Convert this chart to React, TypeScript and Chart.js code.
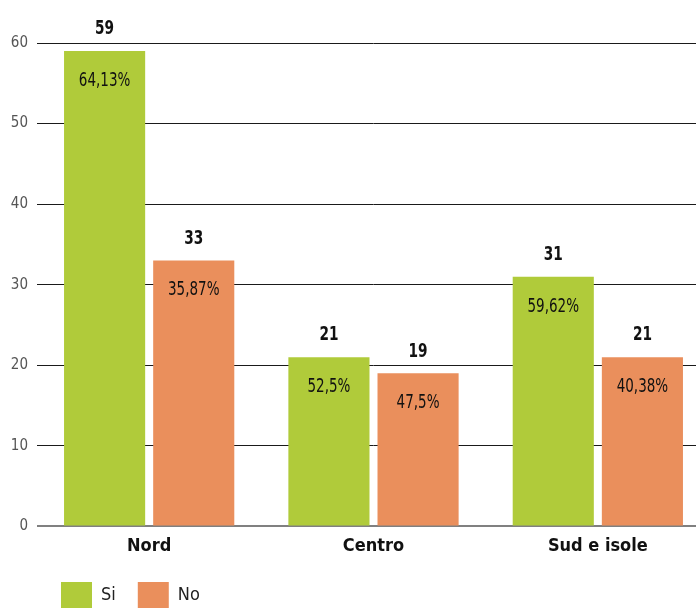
import React, { useEffect, useRef } from "react";
import { Chart, registerables } from "chart.js";

Chart.register(...registerables);

const categories = ["Nord", "Centro", "Sud e isole"];
const siValues = [59, 21, 31];
const noValues = [33, 19, 21];
const siPercent = ["64,13%", "52,5%", "59,62%"];
const noPercent = ["35,87%", "47,5%", "40,38%"];
const seriesNames = ["Si", "No"];
const yMax = 60;
const yStep = 10;

const FONT = '"DejaVu Sans Condensed", "Liberation Sans Narrow", sans-serif';
const GREEN = "#B0CB3A";
const ORANGE = "#EA8F5C";

function drawNarrow(ctx: any, text: string, x: number, y: number, sx: number) {
  ctx.save();
  ctx.translate(x, y);
  ctx.scale(sx, 1);
  ctx.fillText(text, 0, 0);
  ctx.restore();
}

const barLabels = {
  id: "barLabels",
  afterDatasetsDraw(chart: any) {
    const ctx = chart.ctx;
    const values = [siValues, noValues];
    const pcts = [siPercent, noPercent];
    chart.data.datasets.forEach((_ds: any, di: number) => {
      const meta = chart.getDatasetMeta(di);
      meta.data.forEach((bar: any, i: number) => {
        ctx.save();
        ctx.textAlign = "center";
        ctx.textBaseline = "middle";
        ctx.fillStyle = "#111";
        ctx.font = `bold 20px ${FONT}`;
        drawNarrow(ctx, String(values[di][i]), bar.x, bar.y - 22, 0.76);
        ctx.font = `19px ${FONT}`;
        drawNarrow(ctx, pcts[di][i], bar.x, bar.y + 30, 0.79);
        ctx.restore();
      });
    });
  },
};

const legendShift = {
  id: "legendShift",
  afterLayout(chart: any) {
    const lg = chart.legend;
    if (!lg) return;
    const h = lg.height;
    lg.left = 39;
    lg.top = 560;
    lg.bottom = 560 + h;
  },
};

export default function App() {
  const ref = useRef<HTMLCanvasElement | null>(null);

  useEffect(() => {
    if (!ref.current) return;
    const chart = new Chart(ref.current, {
      type: "bar",
      data: {
        labels: categories,
        datasets: [
          {
            label: seriesNames[0],
            data: siValues,
            backgroundColor: GREEN,
            borderWidth: 0,
            categoryPercentage: 178 / 224,
            barPercentage: 81 / 89,
          },
          {
            label: seriesNames[1],
            data: noValues,
            backgroundColor: ORANGE,
            borderWidth: 0,
            categoryPercentage: 178 / 224,
            barPercentage: 81 / 89,
          },
        ],
      },
      options: {
        responsive: false,
        animation: false,
        devicePixelRatio: 1,
        layout: { padding: { top: 43, left: 0, right: 0, bottom: 0 } },
        plugins: {
          tooltip: { enabled: false },
          legend: {
            position: "bottom",
            align: "start",
            labels: {
              boxWidth: 31,
              boxHeight: 26,
              padding: 22,
              color: "#222",
              font: { family: FONT, size: 18 },
            },
          },
        },
        scales: {
          x: {
            grid: { display: false, drawTicks: false },
            border: { display: false },
            ticks: {
              color: "#111",
              padding: 9,
              font: { family: FONT, size: 18, weight: "bold" },
            },
          },
          y: {
            min: 0,
            max: yMax,
            afterFit: (s: any) => {
              s.width = 37;
            },
            border: { display: false },
            grid: {
              drawTicks: false,
              color: (c: any) => (c.tick && c.tick.value === 0 ? "#808080" : "#1a1a1a"),
              lineWidth: (c: any) => (c.tick && c.tick.value === 0 ? 2 : 1),
            },
            ticks: {
              stepSize: yStep,
              padding: 9,
              color: "#555",
              font: { family: FONT, size: 15 },
            },
          },
        },
      },
      plugins: [barLabels, legendShift],
    });
    return () => chart.destroy();
  }, []);

  return (
    <div
      style={{
        position: "fixed",
        left: 0,
        top: 0,
        width: 696,
        height: 608,
        overflow: "hidden",
        background: "#fff",
      }}
    >
      <canvas ref={ref} width={710} height={624} style={{ display: "block" }} />
    </div>
  );
}
